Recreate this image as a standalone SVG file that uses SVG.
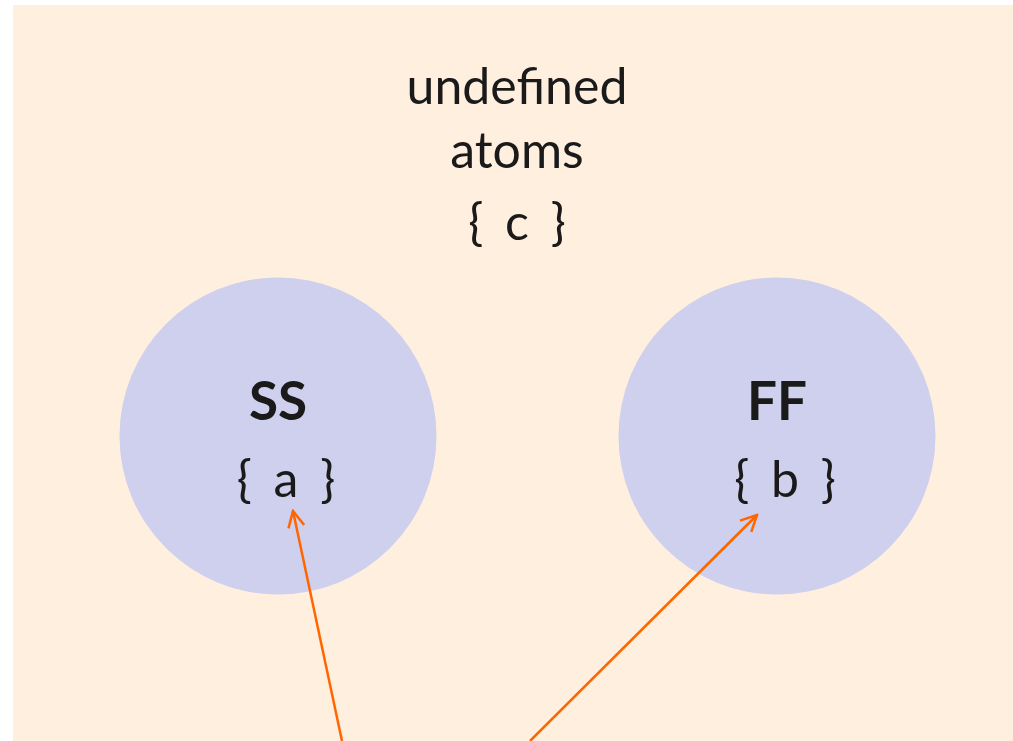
<svg xmlns="http://www.w3.org/2000/svg" width="1013" height="741" viewBox="0 0 1013 741">
<style>
.t{font-family:Lato,"Open Sans",sans-serif;fill:#1a1a1a;text-anchor:middle;font-size:50px}
.br{word-spacing:9px}
.b{font-weight:bold;font-size:53px}
.c{fill:#CFCFEE}
.e{stroke:#FF6600;stroke-width:2.5;fill:none}
</style>
<defs>
<marker id="ah" viewBox="0 0 20 20" refX="18" refY="10" markerWidth="20" markerHeight="20" markerUnits="userSpaceOnUse" orient="auto">
<path d="M2,2 L18,10 L2,18" fill="none" stroke="#FF6600" stroke-width="2.5"/>
</marker>
</defs>
<rect x="13" y="5" width="1000" height="736" fill="#FFEFDF"/>
<g id="undefined">
<text class="t" x="517" y="104">undefined</text>
<text class="t" x="517" y="168">atoms</text>
<text class="t br" x="517" y="240">{ c }</text>
</g>
<g id="SS">
<circle class="c" cx="278" cy="436" r="158.5"/>
<text class="t b" x="278" y="420">SS</text>
<text class="t br" x="286" y="497">{ a }</text>
</g>
<g id="FF">
<circle class="c" cx="777" cy="436" r="158.5"/>
<text class="t b" x="777" y="420">FF</text>
<text class="t br" x="785" y="497">{ b }</text>
</g>
<g id="connectors">
<line class="e" x1="342" y1="741" x2="293" y2="511" marker-end="url(#ah)"/>
<line class="e" x1="530" y1="741" x2="757" y2="515" marker-end="url(#ah)"/>
</g>
</svg>
